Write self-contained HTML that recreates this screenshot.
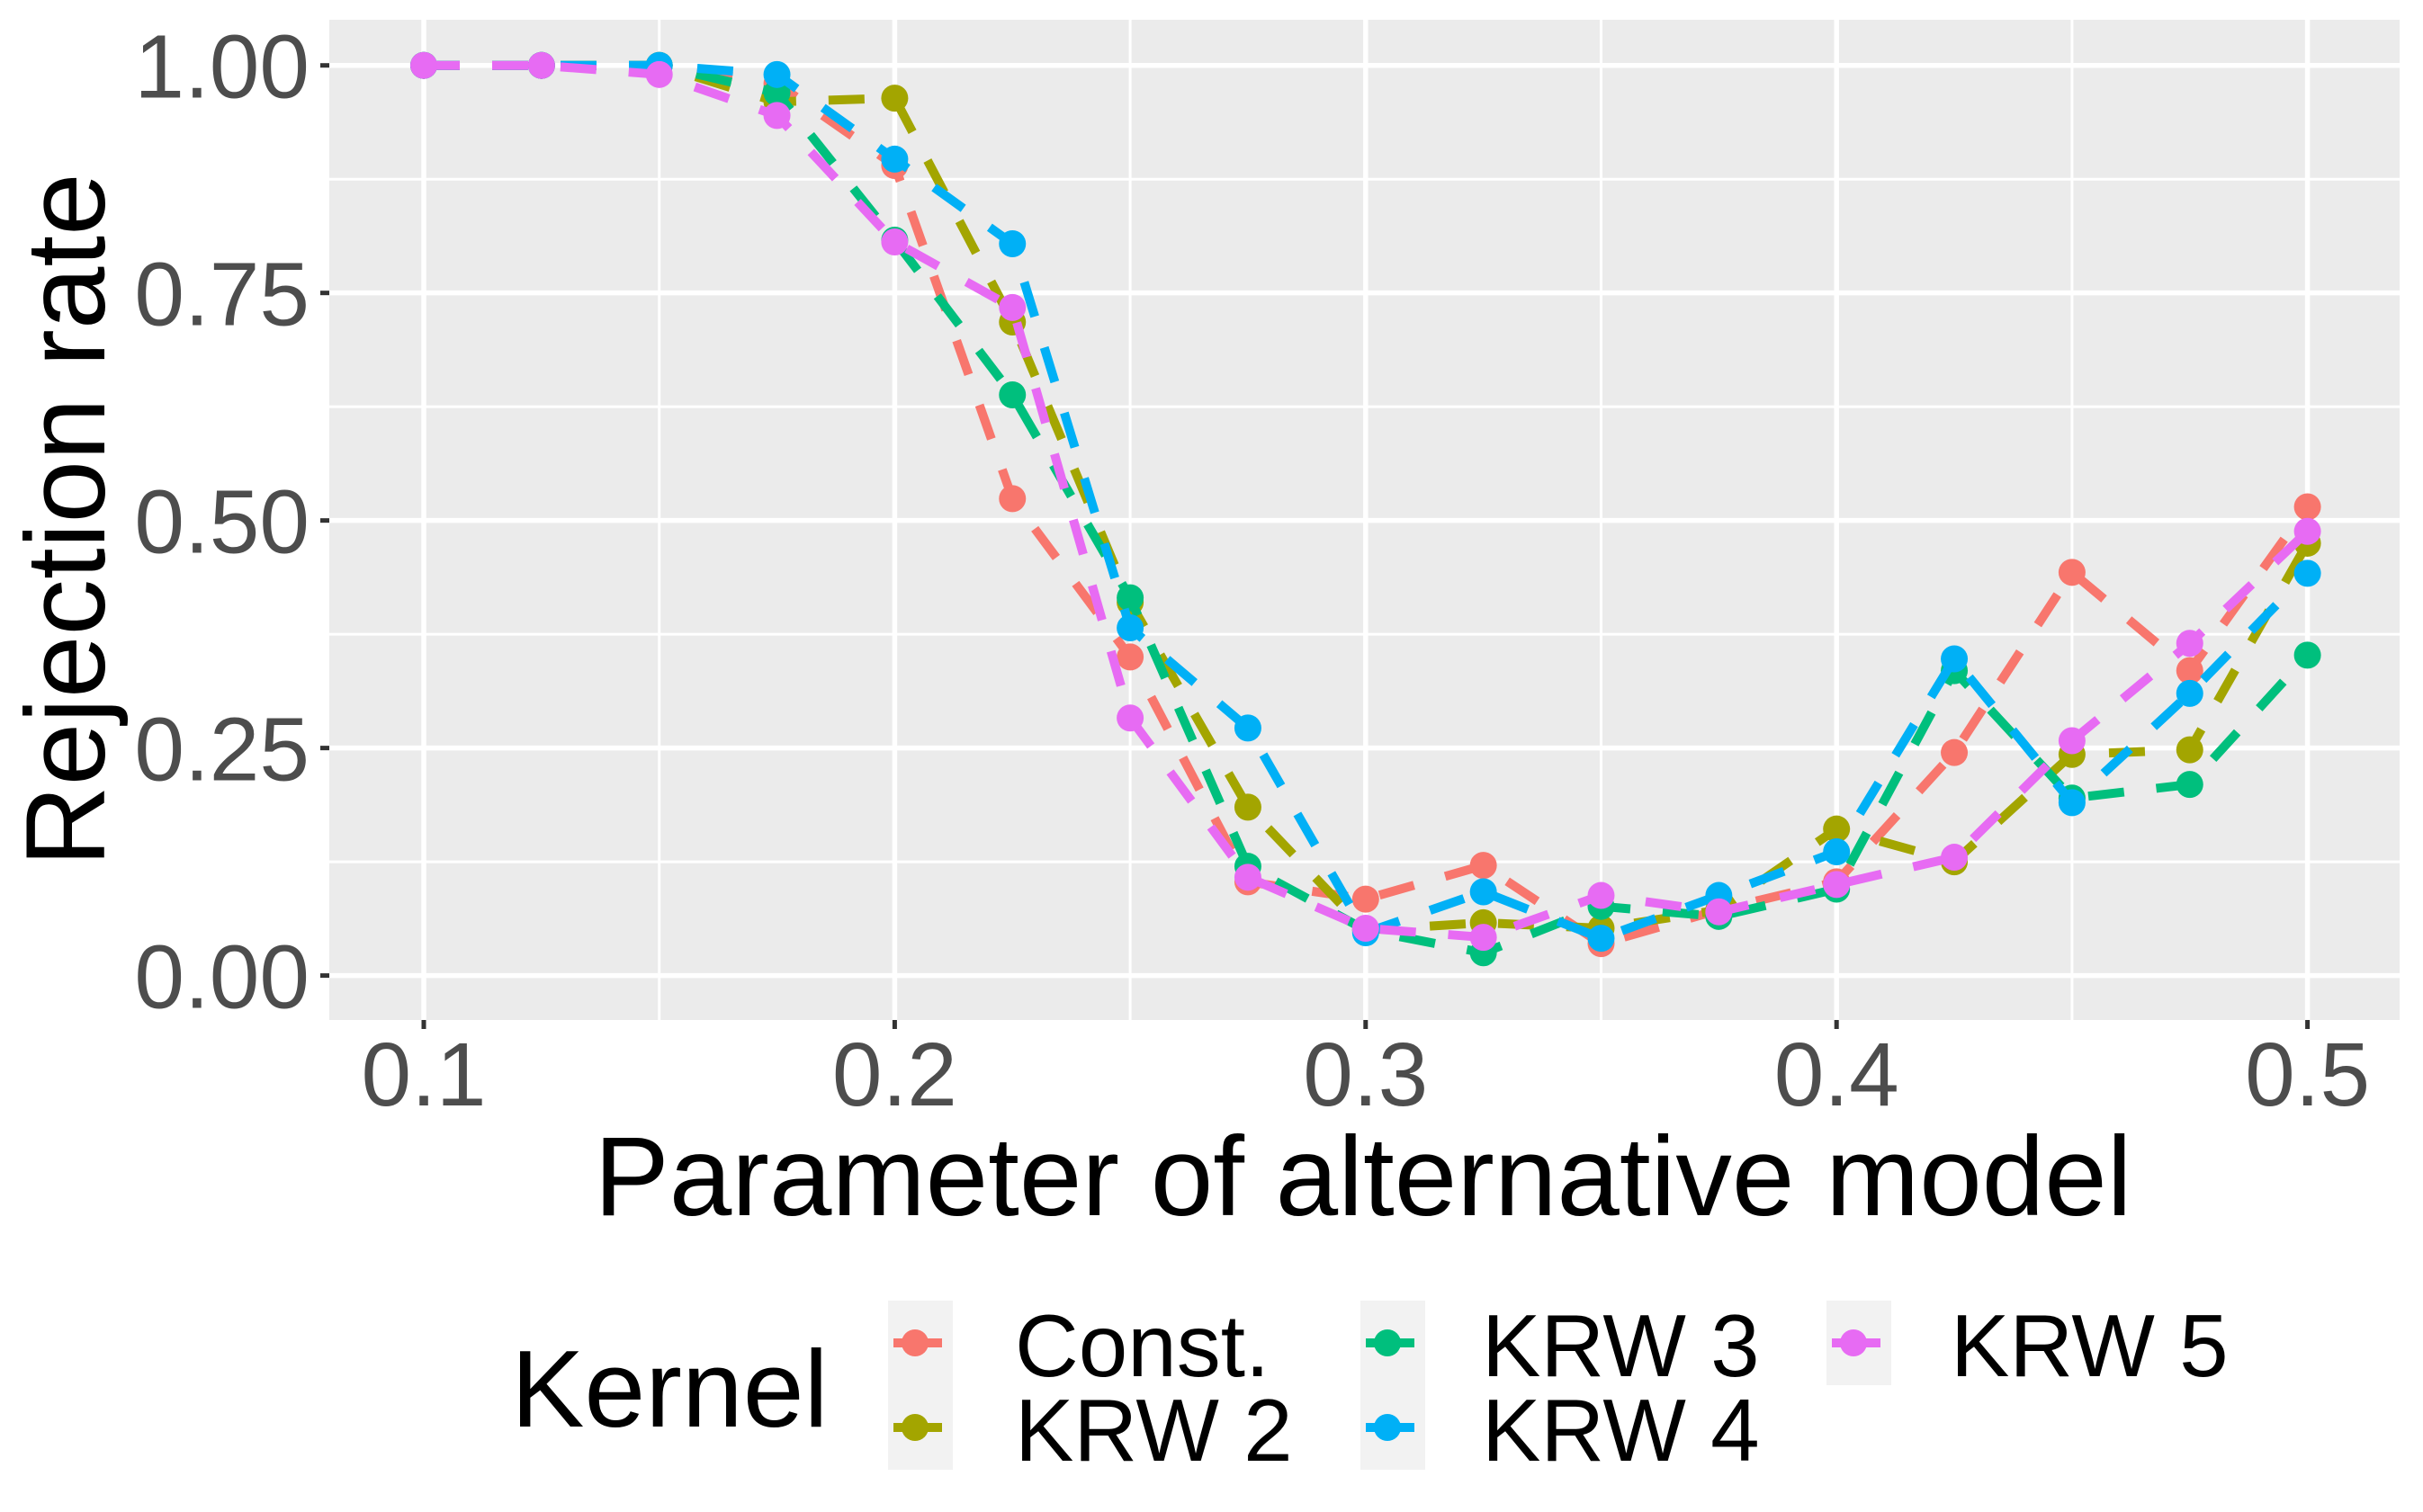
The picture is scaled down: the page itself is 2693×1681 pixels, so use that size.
<!DOCTYPE html>
<html><head><meta charset="utf-8"><style>
html,body{margin:0;padding:0;background:#fff;}
svg{display:block;font-family:"Liberation Sans",Arial,sans-serif;}
</style></head><body>
<svg id="chart" width="2693" height="1681" viewBox="0 0 2693 1681" xmlns="http://www.w3.org/2000/svg">
<rect x="0" y="0" width="2693" height="1681" fill="#fff"/>
<rect x="366" y="22" width="2301" height="1112" fill="#ebebeb"/>
<g id="grid"></g>
<g id="series"></g>
<g id="axes"></g>
<text x="72" y="578" transform="rotate(-90 72 578)" text-anchor="middle" font-size="125" fill="#000" dy="44">Rejection rate</text>
<text x="1515" y="1351" text-anchor="middle" font-size="125" fill="#000">Parameter of alternative model</text>
<g id="legend">
<text x="568" y="1586" font-size="122" fill="#000">Kernel</text>
</g>
</svg>
<script>
const xValues = [0.1,0.125,0.15,0.175,0.2,0.225,0.25,0.275,0.3,0.325,0.35,0.375,0.4,0.425,0.45,0.475,0.5];
const seriesNames = ["Const.","KRW 2","KRW 3","KRW 4","KRW 5"];
const constVals = [1,1,1,0.98,0.89,0.524,0.35,0.103,0.084,0.121,0.035,0.072,0.103,0.245,0.443,0.335,0.515];
const krw2Vals = [1,1,1,0.96,0.964,0.718,0.41,0.185,0.05,0.058,0.052,0.072,0.161,0.125,0.243,0.248,0.475];
const krw3Vals = [1,1,1,0.97,0.808,0.638,0.415,0.12,0.05,0.025,0.076,0.065,0.095,0.335,0.195,0.21,0.352];
const krw4Vals = [1,1,1,0.99,0.897,0.804,0.382,0.272,0.047,0.092,0.041,0.088,0.136,0.348,0.19,0.31,0.442];
const krw5Vals = [1,1,0.99,0.945,0.806,0.734,0.283,0.108,0.052,0.042,0.088,0.07,0.1,0.13,0.258,0.365,0.488];
const colors = ["#F8766D","#A3A500","#00BF7D","#00B0F6","#E76BF3"];
const xTicks = [0.1,0.2,0.3,0.4,0.5];
const xTickLabels = ["0.1","0.2","0.3","0.4","0.5"];
const yTicks = [0,0.25,0.5,0.75,1];
const yTickLabels = ["0.00","0.25","0.50","0.75","1.00"];

const NS="http://www.w3.org/2000/svg";
function X(v){return 471 + (v-0.1)*5234;}
function Y(v){return 1084.6 - v*1011.9;}
function mk(tag,attrs,parent){const e=document.createElementNS(NS,tag);for(const k in attrs)e.setAttribute(k,attrs[k]);parent.appendChild(e);return e;}

const grid=document.getElementById('grid');
[0.125,0.375,0.625,0.875].forEach(v=>{
  const l=mk('line',{x1:366,x2:2667,y1:Y(v),y2:Y(v),stroke:'#fff','stroke-width':3},grid);
  
  
});
[0.15,0.25,0.35,0.45].forEach(v=>{
  const l=mk('line',{x1:X(v),x2:X(v),y1:22,y2:1134,stroke:'#fff','stroke-width':3},grid);
  
  
});
yTicks.forEach(v=>{
  const l=mk('line',{x1:366,x2:2667,y1:Y(v),y2:Y(v),stroke:'#fff','stroke-width':5.5},grid);
  
  
});
xTicks.forEach(v=>{
  const l=mk('line',{x1:X(v),x2:X(v),y1:22,y2:1134,stroke:'#fff','stroke-width':5.5},grid);
  
  
});

const axes=document.getElementById('axes');
yTicks.forEach((v,i)=>{
  const t=mk('line',{x1:356,x2:366,y1:Y(v),y2:Y(v),stroke:'#333','stroke-width':5},axes);
  
  
  const tx=mk('text',{x:344,y:Y(v)+36,'text-anchor':'end','font-size':100,fill:'#4d4d4d'},axes);
  tx.textContent=yTickLabels[i];
  
  
});
xTicks.forEach((v,i)=>{
  const t=mk('line',{x1:X(v),x2:X(v),y1:1134,y2:1144,stroke:'#333','stroke-width':5},axes);
  
  
  const tx=mk('text',{x:X(v),y:1229,'text-anchor':'middle','font-size':100,fill:'#4d4d4d'},axes);
  tx.textContent=xTickLabels[i];
  
  
});

const allVals=[constVals,krw2Vals,krw3Vals,krw4Vals,krw5Vals];
const series=document.getElementById('series');
allVals.forEach((vals,si)=>{
  const g=mk('g',{},series);
  
  
  const pts=vals.map((v,i)=>X(xValues[i]).toFixed(1)+','+Y(v).toFixed(1)).join(' ');
  const pl=mk('polyline',{points:pts,fill:'none',stroke:colors[si],'stroke-width':10,'stroke-dasharray':'40 36'},g);
  
  
  vals.forEach((v,i)=>{
    const c=mk('circle',{cx:X(xValues[i]),cy:Y(v),r:15,fill:colors[si]},g);
    
    
  });
});

const legend=document.getElementById('legend');
const keyPos=[[987,1446],[987,1540],[1512,1446],[1512,1540],[2030,1446]];
const labelX=[1128,1128,1647,1647,2168];
seriesNames.forEach((n,i)=>{
  const [kx,ky]=keyPos[i];
  const g=mk('g',{},legend);
  
  
  const r=mk('rect',{x:kx,y:ky,width:72,height:94,fill:'#f2f2f2'},g);
  
  
  const l=mk('line',{x1:kx+6,x2:kx+66,y1:ky+47,y2:ky+47,stroke:colors[i],'stroke-width':10,'stroke-dasharray':'20 14'},g);
  
  
  const c=mk('circle',{cx:kx+30,cy:ky+47,r:15,fill:colors[i]},g);
  
  
  const t=mk('text',{x:labelX[i],y:ky+84,'font-size':98,fill:'#000'},g);
  t.textContent=n;
  
  
});
</script>
</body></html>
